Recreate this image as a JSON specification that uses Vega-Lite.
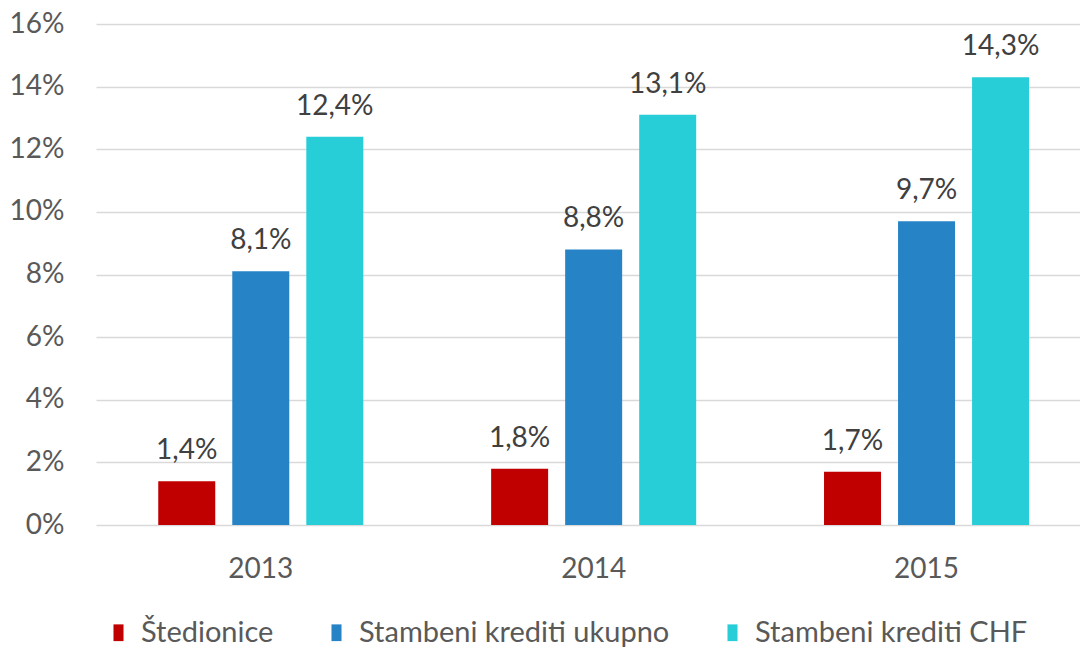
{
  "$schema": "https://vega.github.io/schema/vega-lite/v6.json",
  "width": 984,
  "height": 501,
  "autosize": {"type": "none"},
  "padding": {"left": 96, "top": 24, "right": 0, "bottom": 123},
  "background": "white",
  "data": {
    "values": [
      {"year": "2013", "series": "Štedionice", "v": 0.014},
      {"year": "2013", "series": "Stambeni krediti ukupno", "v": 0.081},
      {"year": "2013", "series": "Stambeni krediti CHF", "v": 0.124},
      {"year": "2014", "series": "Štedionice", "v": 0.018},
      {"year": "2014", "series": "Stambeni krediti ukupno", "v": 0.088},
      {"year": "2014", "series": "Stambeni krediti CHF", "v": 0.131},
      {"year": "2015", "series": "Štedionice", "v": 0.017},
      {"year": "2015", "series": "Stambeni krediti ukupno", "v": 0.097},
      {"year": "2015", "series": "Stambeni krediti CHF", "v": 0.143}
    ]
  },
  "encoding": {
    "x": {
      "field": "year", "type": "nominal", "title": null,
      "scale": {"paddingInner": 0.384, "paddingOuter": 0.17, "align": 0.55},
      "axis": {"labelAngle": 0, "domain": false, "ticks": false, "labelPadding": 30, "labelFontSize": 28, "labelColor": "#595959", "labelFont": "Lato"}
    },
    "xOffset": {
      "field": "series", "type": "nominal",
      "sort": ["Štedionice", "Stambeni krediti ukupno", "Stambeni krediti CHF"],
      "scale": {"paddingInner": 0.23, "paddingOuter": 0}
    },
    "y": {
      "field": "v", "type": "quantitative", "title": null,
      "scale": {"domain": [0, 0.16], "nice": false},
      "axis": {"values": [0, 0.02, 0.04, 0.06, 0.08, 0.1, 0.12, 0.14, 0.16], "format": ".0%", "domain": false, "ticks": false, "labelPadding": 32, "labelFontSize": 28, "labelColor": "#595959", "labelFont": "Lato", "gridColor": "#d9d9d9", "gridWidth": 1.5}
    }
  },
  "layer": [
    {
      "mark": {"type": "bar"},
      "encoding": {
        "color": {
          "field": "series", "type": "nominal",
          "scale": {"domain": ["Štedionice", "Stambeni krediti ukupno", "Stambeni krediti CHF"], "range": ["#C00000", "#2683C6", "#27CED7"]},
          "legend": {
            "title": null, "orient": "none", "direction": "horizontal",
            "legendX": 8, "legendY": 594,
            "symbolType": "M-0.6,-1H0.6V1H-0.6Z", "symbolSize": 280, "symbolStrokeWidth": 0,
            "labelFontSize": 29, "labelColor": "#595959", "labelFont": "Lato",
            "labelOffset": 8, "columnPadding": 48, "labelLimit": 500
          }
        }
      }
    },
    {
      "mark": {"type": "text", "baseline": "alphabetic", "dy": -22, "fontSize": 28, "font": "Lato", "color": "#404040"},
      "encoding": {
        "text": {"field": "v", "type": "quantitative", "format": ".1%"}
      }
    }
  ],
  "config": {
    "view": {"stroke": null},
    "locale": {"number": {"decimal": ",", "thousands": ".", "grouping": [3], "currency": ["", " €"]}}
  }
}
